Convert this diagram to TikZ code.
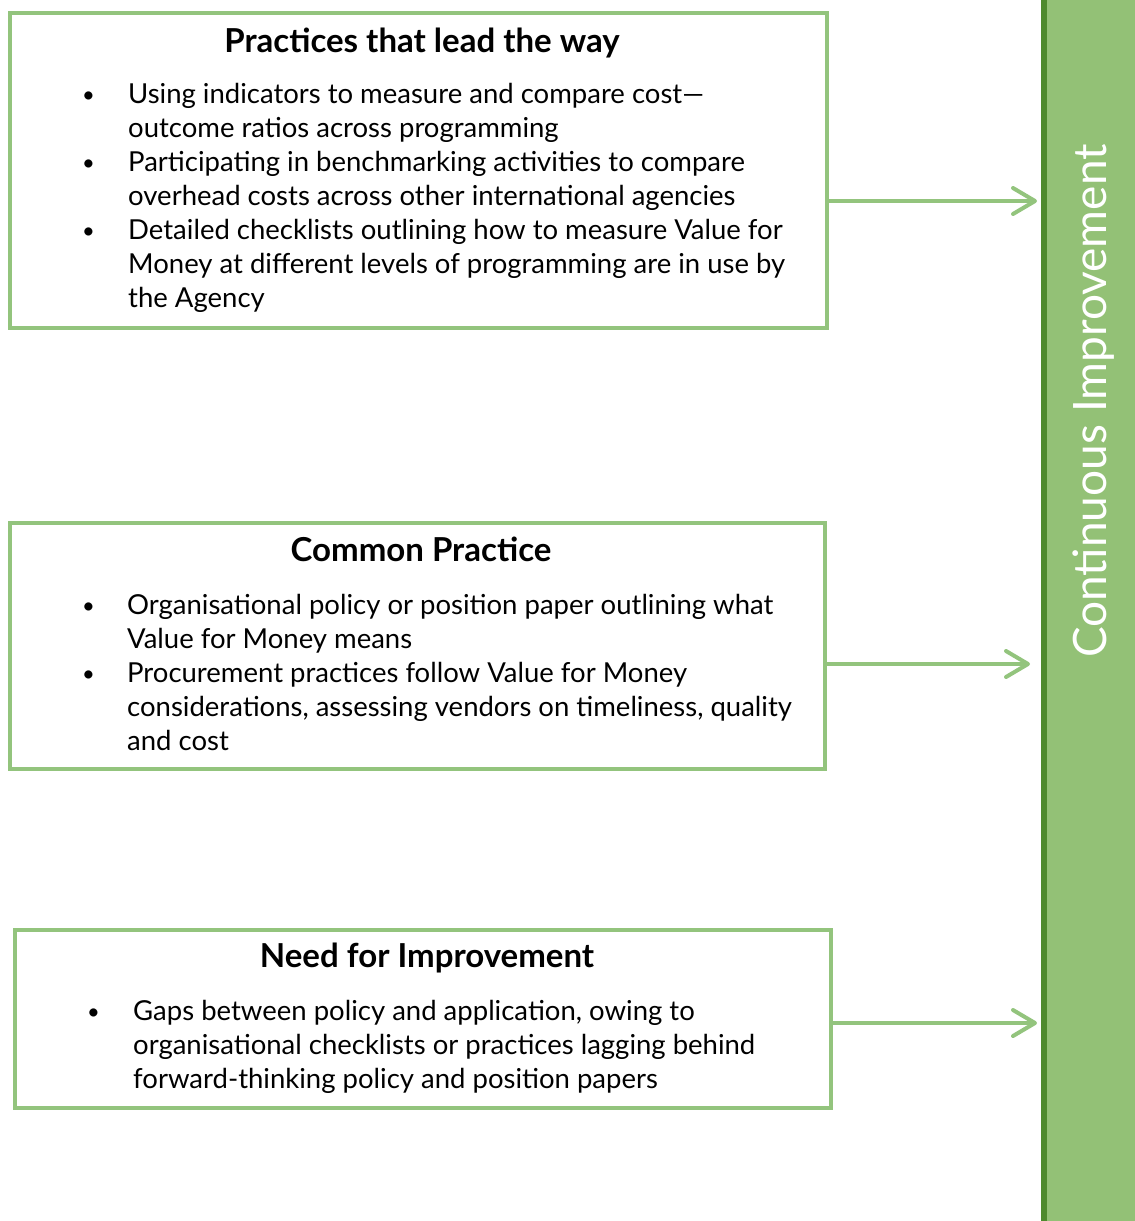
\documentclass[tikz,border=0pt]{standalone}
\usepackage{fontspec}
\setmainfont{Lato}
\usetikzlibrary{arrows.meta}
\definecolor{lgreen}{HTML}{93C47D}
\definecolor{dgreen}{HTML}{4E8A2E}
\definecolor{barfill}{HTML}{93C176}
\newcommand\bul{\raisebox{1pt}{\scalebox{0.8}{\textbullet}}}
\begin{document}
\begin{tikzpicture}[x=1pt,y=-1pt,
  box/.style={draw=lgreen, line width=4pt, fill=white, inner sep=0pt},
  ttl/.style={anchor=base, inner sep=0pt, font=\fontsize{33}{38}\selectfont\bfseries},
  body/.style={anchor=base west, inner sep=0pt, align=left, font=\fontsize{27.5}{34}\selectfont},
  arr/.style={draw=lgreen, line width=4pt, line cap=round, -{Straight Barb[length=22pt,width=26pt,line cap=round,line join=round]}},
  vtxt/.style={rotate=90, text=white, inner sep=0pt, font=\fontsize{46}{50}\selectfont}]
\useasboundingbox (0,0) rectangle (1135,1221);
% bar
\fill[barfill] (1044,-5) rectangle (1140,1226);
\draw[dgreen, line width=6pt] (1044,-5) -- (1044,1226);
\node[vtxt] (ci) at (1094,401) {Continuous Improvement};
% boxes
\node[box, minimum width=817pt, minimum height=315pt] (b1) at (418.5,170.5) {};
\node[box, minimum width=815pt, minimum height=246pt] (b2) at (417.5,646) {};
\node[box, minimum width=816pt, minimum height=178pt] (b3) at (423,1019) {};
% titles
\node[ttl] (t1) at (422,52) {Practices that lead the way};
\node[ttl] (t2) at (421,561) {Common Practice};
\node[ttl] (t3) at (427,967) {Need for Improvement};
% bodies
\node[body] (l1) at (82,103) {\begin{tabular}[t]{@{}p{46pt}@{}l@{}}
\bul & Using indicators to measure and compare cost—\\
 & outcome ratios across programming\\
\bul & Participating in benchmarking activities to compare\\
 & overhead costs across other international agencies\\
\bul & Detailed checklists outlining how to measure Value for\\
 & Money at different levels of programming are in use by\\
 & the Agency
\end{tabular}};
\node[body] (l2) at (82,614) {\begin{tabular}[t]{@{}p{45pt}@{}l@{}}
\bul & Organisational policy or position paper outlining what\\
 & Value for Money means\\
\bul & Procurement practices follow Value for Money\\
 & considerations, assessing vendors on timeliness, quality\\
 & and cost
\end{tabular}};
\node[body] (l3) at (87,1020) {\begin{tabular}[t]{@{}p{46pt}@{}l@{}}
\bul & Gaps between policy and application, owing to\\
 & organisational checklists or practices lagging behind\\
 & forward-thinking policy and position papers
\end{tabular}};
% arrows
\coordinate (e1) at (1037,201);
\coordinate (e2) at (1030,664);
\coordinate (e3) at (1037,1023);
\draw[arr] (b1.east |- e1) -- (e1);
\draw[arr] (b2.east |- e2) -- (e2);
\draw[arr] (b3.east |- e3) -- (e3);
\end{tikzpicture}
\end{document}
